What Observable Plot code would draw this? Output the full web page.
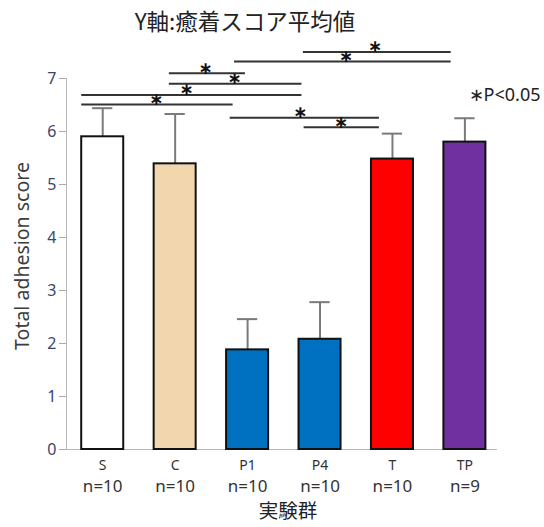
<!DOCTYPE html>
<html>
<head>
<meta charset="utf-8">
<script src="https://cdn.jsdelivr.net/npm/d3@7"></script>
<script src="https://cdn.jsdelivr.net/npm/@observablehq/plot@0.6"></script>
<style>
  body { margin: 0; background: #fff; width: 544px; height: 527px; overflow: hidden; }
  #title { position: absolute; left: 0; top: 0; width: 490px; height: 40px; line-height: 40px;
    text-align: center; font-family: "Noto Sans CJK JP", "Noto Sans", sans-serif; font-size: 22.5px; color: #222; }
  #chart { position: absolute; left: 0; top: 40px; }
</style>
</head>
<body>
<div id="title">Y軸:癒着スコア平均値</div>
<div id="chart"></div>
<script>
const groups = ["S", "C", "P1", "P4", "T", "TP"];
const nLabels = ["n=10", "n=10", "n=10", "n=10", "n=10", "n=9"];
const means = [5.9, 5.39, 1.88, 2.08, 5.48, 5.8];
const sds = [0.54, 0.94, 0.58, 0.70, 0.48, 0.45];
const colors = ["#ffffff", "#f2d6ae", "#0070c0", "#0070c0", "#ff0000", "#7030a0"];
const yTicks = [0, 1, 2, 3, 4, 5, 6, 7];
// significance brackets, in group-index units
const sigFrom = [2.77, 1.82, 0.92, 0.92, -0.29, -0.29, 1.76, 2.78];
const sigTo = [4.81, 4.81, 1.97, 2.75, 2.75, 1.80, 3.82, 3.82];
const sigLevel = [7.5, 7.32, 7.1, 6.9, 6.69, 6.51, 6.26, 6.08];
const starAt = [3.76, 3.36, 1.42, 1.82, 1.16, 0.74, 2.73, 3.29];
const yLabel = "Total adhesion score";
const xLabel = "実験群";
const note = "∗P<0.05";

const idx = groups.map((_, i) => i);
const sig = sigFrom.map((_, i) => i);
const font = "'Noto Sans', 'Noto Sans CJK JP', sans-serif";

const chart = Plot.plot({
  width: 544,
  height: 487,
  marginLeft: 66,
  marginRight: 47,
  marginTop: 38,
  marginBottom: 78,
  style: { fontFamily: font, background: "transparent", overflow: "visible" },
  x: { domain: [-0.5, 5.45], axis: null },
  y: { domain: [0, 7], axis: null },
  color: { type: "identity" },
  marks: [
    Plot.ruleX([-0.5], { y1: 0, y2: 7, stroke: "#b8b8b8", strokeWidth: 1 }),
    Plot.axisY({ ticks: yTicks, tickFormat: "d", anchor: "left", tickSize: 7, tickPadding: 3, stroke: "#aaaaaa",
      fill: "#3a4570", fontSize: 16, label: null }),
    Plot.ruleY([0], { x1: -0.5, x2: 5.45, stroke: "#b8b8b8", strokeWidth: 1.2 }),
    Plot.ruleX(idx, { x: i => i, y1: i => means[i], y2: i => means[i] + sds[i], stroke: "#7a7a7a", strokeWidth: 2 }),
    Plot.ruleY(idx, { y: i => means[i] + sds[i], x1: i => i - 0.14, x2: i => i + 0.14, stroke: "#7a7a7a", strokeWidth: 2 }),
    Plot.rectY(idx, { x1: i => i - 0.29, x2: i => i + 0.29, y1: 0, y2: i => means[i],
      fill: i => colors[i], stroke: "#111", strokeWidth: 2 }),
    Plot.ruleY(sig, { y: i => sigLevel[i], x1: i => sigFrom[i], x2: i => sigTo[i], stroke: "#333", strokeWidth: 2 }),
    Plot.text(sig, { x: i => starAt[i], y: i => sigLevel[i], text: () => "∗", dy: -5,
      fontSize: 17, fontWeight: "bold", fill: "#111", fontFamily: "DejaVu Sans" }),
    Plot.text(idx, { x: i => i, y: 0, text: i => groups[i], dy: 16, fontSize: 14, fill: "#333" }),
    Plot.text(idx, { x: i => i, y: 0, text: i => nLabels[i], dy: 37, fontSize: 17, fill: "#333" }),
    Plot.text([xLabel], { frameAnchor: "bottom", dx: 6, dy: 68, fontSize: 19.5, fill: "#222",
      fontFamily: "'Noto Sans CJK JP', sans-serif" }),
    Plot.text([yLabel], { frameAnchor: "left", textAnchor: "middle", dx: -44, dy: -8, rotate: -90,
      fontSize: 19.5, fill: "#3c3c3c" }),
    Plot.text([note], { frameAnchor: "top-right", textAnchor: "end", dx: 43, dy: 10, fontSize: 18, fill: "#222" })
  ]
});
document.getElementById("chart").appendChild(chart);
</script>
</body>
</html>
